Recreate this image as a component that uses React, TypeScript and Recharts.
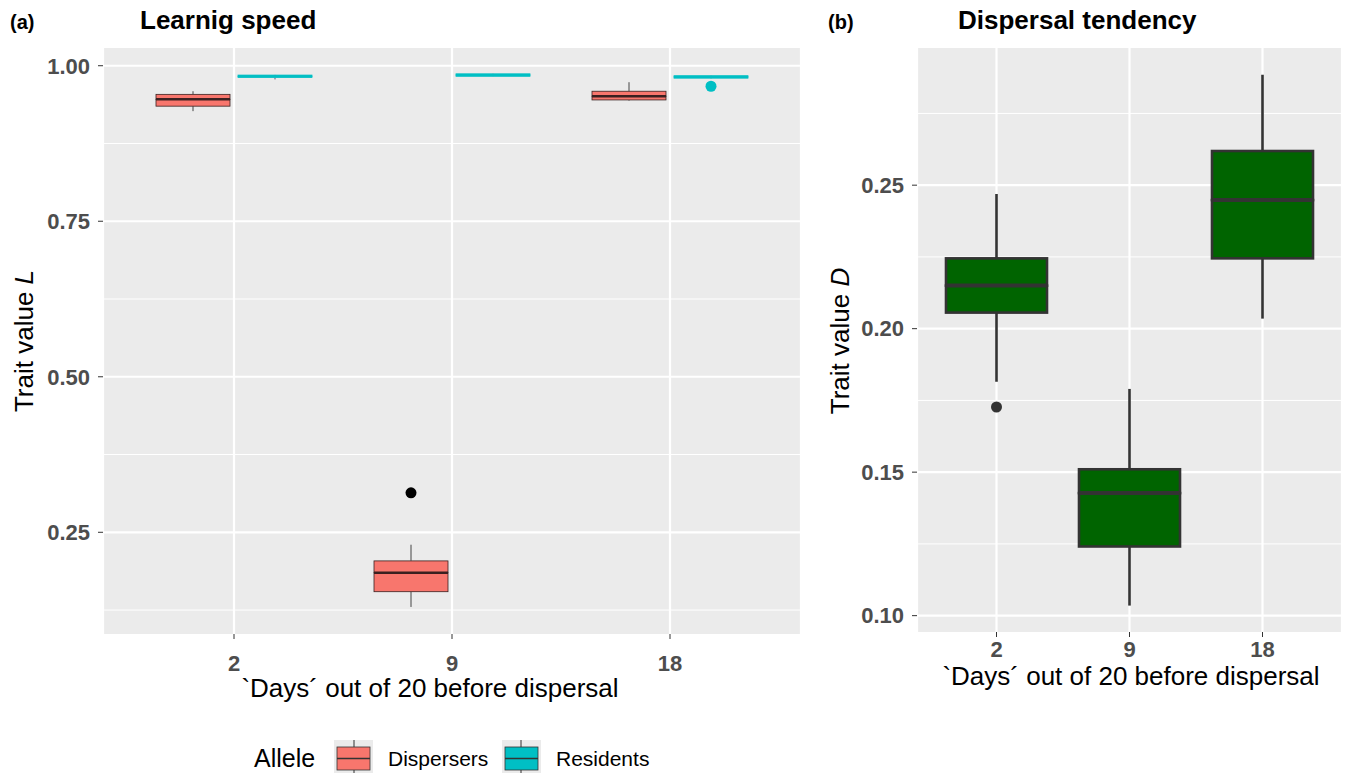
import React from 'react';
import { ComposedChart, Bar, XAxis, YAxis, CartesianGrid } from 'recharts';

const days = ['2', '9', '18'];

// (a) Learning speed L, Dispersers allele
const dispLo = [null, null, null];
const dispMin = [0.927, 0.13, 0.944];
const dispQ1 = [0.935, 0.1545, 0.945];
const dispMed = [0.946, 0.185, 0.951];
const dispQ3 = [0.954, 0.204, 0.959];
const dispMax = [0.959, 0.23, 0.9735];
const dispHi = [null, 0.3135, null];

// (a) Learning speed L, Residents allele
const resLo = [null, null, 0.967];
const resMin = [0.978, 0.9828, 0.9795];
const resQ1 = [0.9810, 0.9830, 0.9800];
const resMed = [0.983, 0.985, 0.982];
const resQ3 = [0.9850, 0.9870, 0.9840];
const resMax = [0.9852, 0.9872, 0.9842];
const resHi = [null, null, null];

// (b) Dispersal tendency D
const dLo = [0.1727, null, null];
const dMin = [0.1815, 0.1035, 0.2035];
const dQ1 = [0.2056, 0.1241, 0.2245];
const dMed = [0.215, 0.1427, 0.2448];
const dQ3 = [0.2245, 0.151, 0.2619];
const dMax = [0.2469, 0.179, 0.2885];
const dHi = [null, null, null];

const ticksL = [0.25, 0.5, 0.75, 1.0];
const minorL = [0.125, 0.375, 0.625, 0.875];
const ticksD = [0.1, 0.15, 0.2, 0.25];
const minorD = [0.125, 0.175, 0.225, 0.275];

const FONT = '"Liberation Sans", Arial, sans-serif';

type Stats = {
  lo: (number | null)[];
  min: number[];
  q1: number[];
  med: number[];
  q3: number[];
  max: number[];
  hi: (number | null)[];
};

// turn box statistics into stacked segments
function addBox(rows: any[], p: string, st: Stats) {
  rows.forEach((r, i) => {
    const base = st.lo[i] ?? st.min[i];
    r[p + 'Base'] = base;
    r[p + 'Gap'] = st.min[i] - base;
    r[p + 'W1'] = st.q1[i] - st.min[i];
    r[p + 'B1'] = st.med[i] - st.q1[i];
    r[p + 'B2'] = st.q3[i] - st.med[i];
    r[p + 'W2'] = st.max[i] - st.q3[i];
    r[p + 'Top'] = (st.hi[i] ?? st.max[i]) - st.max[i];
    r[p + 'Lo'] = st.lo[i];
    r[p + 'Hi'] = st.hi[i];
  });
  return rows;
}

const dataA = addBox(
  addBox(days.map((day) => ({ day })), 'disp', {
    lo: dispLo, min: dispMin, q1: dispQ1, med: dispMed, q3: dispQ3, max: dispMax, hi: dispHi,
  }),
  'res',
  { lo: resLo, min: resMin, q1: resQ1, med: resMed, q3: resQ3, max: resMax, hi: resHi }
);

const dataB = addBox(days.map((day) => ({ day })), 'd', {
  lo: dLo, min: dMin, q1: dQ1, med: dMed, q3: dQ3, max: dMax, hi: dHi,
});

type Look = {
  fill: string;
  line: string;
  box: number;
  median: number;
  whisker: number;
  whiskerColor: string;
  dot: string;
  r: number;
};

function geo(s: any) {
  const y0 = Math.min(s.y, s.y + s.height);
  const h = Math.abs(s.height);
  return { cx: s.x + s.width / 2, y0, h, x: s.x, w: s.width };
}

function boxBars(p: string, stack: string, look: Look) {
  return [
    <Bar key={p + 'Base'} dataKey={p + 'Base'} stackId={stack} isAnimationActive={false}
      shape={(s: any) => {
        if (s.payload[p + 'Lo'] == null) return <g />;
        const g = geo(s);
        return <circle cx={g.cx} cy={g.y0} r={look.r} fill={look.dot} />;
      }} />,
    <Bar key={p + 'Gap'} dataKey={p + 'Gap'} stackId={stack} isAnimationActive={false}
      shape={() => <g />} />,
    <Bar key={p + 'W1'} dataKey={p + 'W1'} stackId={stack} isAnimationActive={false}
      shape={(s: any) => {
        const g = geo(s);
        return <line x1={g.cx} x2={g.cx} y1={g.y0} y2={g.y0 + g.h} stroke={look.whiskerColor} strokeWidth={look.whisker} />;
      }} />,
    <Bar key={p + 'B1'} dataKey={p + 'B1'} stackId={stack} isAnimationActive={false}
      shape={(s: any) => {
        const g = geo(s);
        return <rect x={g.x} y={g.y0} width={g.w} height={g.h} fill={look.fill} stroke={look.line} strokeWidth={look.box} />;
      }} />,
    <Bar key={p + 'B2'} dataKey={p + 'B2'} stackId={stack} isAnimationActive={false}
      shape={(s: any) => {
        const g = geo(s);
        return (
          <g>
            <rect x={g.x} y={g.y0} width={g.w} height={g.h} fill={look.fill} stroke={look.line} strokeWidth={look.box} />
            <line x1={g.x} x2={g.x + g.w} y1={g.y0 + g.h} y2={g.y0 + g.h} stroke={look.line} strokeWidth={look.median} />
          </g>
        );
      }} />,
    <Bar key={p + 'W2'} dataKey={p + 'W2'} stackId={stack} isAnimationActive={false}
      shape={(s: any) => {
        const g = geo(s);
        return <line x1={g.cx} x2={g.cx} y1={g.y0} y2={g.y0 + g.h} stroke={look.whiskerColor} strokeWidth={look.whisker} />;
      }} />,
    <Bar key={p + 'Top'} dataKey={p + 'Top'} stackId={stack} isAnimationActive={false}
      shape={(s: any) => {
        if (s.payload[p + 'Hi'] == null) return <g />;
        const g = geo(s);
        return <circle cx={g.cx} cy={g.y0} r={look.r} fill={look.dot} />;
      }} />,
  ];
}

const tickStyle = { fill: '#4D4D4D', fontSize: 22, fontWeight: 'bold', fontFamily: FONT };

const dispLook: Look = { fill: '#F8766D', line: '#3a2020', box: 0.8, median: 2.5, whisker: 1, whiskerColor: '#444', dot: '#000', r: 5.5 };
const resLook: Look = { fill: '#00BFC4', line: '#00BFC4', box: 0.8, median: 0.8, whisker: 1, whiskerColor: '#557', dot: '#00BFC4', r: 5.5 };
const dLook: Look = { fill: '#006400', line: '#333333', box: 2.6, median: 4, whisker: 2.6, whiskerColor: '#333333', dot: '#333333', r: 5.5 };

export default function App() {
  return (
    <div style={{ position: 'absolute', left: 0, top: 0, width: 1346, height: 773, background: '#fff', fontFamily: FONT, overflow: 'hidden' }}>
      <div style={{ position: 'absolute', left: 0, top: 0 }}>
        <ComposedChart width={810} height={700} data={dataA} margin={{ top: 48, right: 9, bottom: 36, left: 43 }} barSize={74} barGap={8}>
          <CartesianGrid fill="#EBEBEB" stroke="#FFFFFF" strokeWidth={1} horizontalValues={minorL} vertical={false} />
          <CartesianGrid stroke="#FFFFFF" strokeWidth={2.2} horizontalValues={ticksL} fill="none" />
          <XAxis dataKey="day" type="category" padding={{ left: 22, right: 22 }} axisLine={false}
            tickLine={{ stroke: '#333' }} tickSize={5} tickMargin={16} height={30} tick={tickStyle} />
          <YAxis type="number" domain={[0.0865, 1.0285]} allowDataOverflow ticks={ticksL}
            tickFormatter={(v: number) => v.toFixed(2)} axisLine={false} tickLine={{ stroke: '#333' }}
            tickSize={5} tickMargin={8} width={60} tick={tickStyle} />
          {boxBars('disp', 'disp', dispLook)}
          {boxBars('res', 'res', resLook)}
        </ComposedChart>
      </div>
      <div style={{ position: 'absolute', left: 810, top: 0 }}>
        <ComposedChart width={536} height={700} data={dataB} margin={{ top: 48, right: 4, bottom: 38, left: 47 }} barSize={101}>
          <CartesianGrid fill="#EBEBEB" stroke="#FFFFFF" strokeWidth={1} horizontalValues={minorD} vertical={false} />
          <CartesianGrid stroke="#FFFFFF" strokeWidth={2.2} horizontalValues={ticksD} fill="none" />
          <XAxis dataKey="day" type="category" padding={{ left: 13, right: 13 }} axisLine={false}
            tickLine={{ stroke: '#333' }} tickSize={5} tickMargin={4} height={30} tick={tickStyle} />
          <YAxis type="number" domain={[0.0943, 0.2978]} allowDataOverflow ticks={ticksD}
            tickFormatter={(v: number) => v.toFixed(2)} axisLine={false} tickLine={{ stroke: '#333' }}
            tickSize={5} tickMargin={8} width={60} tick={tickStyle} />
          {boxBars('d', 'd', dLook)}
        </ComposedChart>
      </div>
      <svg width={1346} height={773} style={{ position: 'absolute', left: 0, top: 0, pointerEvents: 'none' }} fontFamily={FONT}>
        <text x={10} y={29} fontSize={20} fontWeight="bold">(a)</text>
        <text x={140} y={29} fontSize={26} fontWeight="bold">Learnig speed</text>
        <text x={828} y={29} fontSize={20} fontWeight="bold">(b)</text>
        <text x={958} y={29} fontSize={26} fontWeight="bold">Dispersal tendency</text>
        <text x={430} y={697} fontSize={26} textAnchor="middle">`Days´ out of 20 before dispersal</text>
        <text x={1131} y={685} fontSize={26} textAnchor="middle">`Days´ out of 20 before dispersal</text>
        <text transform="translate(33,341) rotate(-90)" fontSize={26} textAnchor="middle">
          Trait value <tspan fontStyle="italic">L</tspan>
        </text>
        <text transform="translate(849,341) rotate(-90)" fontSize={26} textAnchor="middle">
          Trait value <tspan fontStyle="italic">D</tspan>
        </text>
        <text x={254} y={767} fontSize={25}>Allele</text>
        <g>
          <rect x={334} y={740} width={39} height={40} fill="#EBEBEB" />
          <line x1={354} x2={354} y1={740} y2={778} stroke="#333" strokeWidth={1} />
          <rect x={337} y={747} width={33} height={23} fill="#F8766D" stroke="#333" strokeWidth={0.8} />
          <line x1={337} x2={370} y1={758.5} y2={758.5} stroke="#333" strokeWidth={1.5} />
          <text x={388} y={766} fontSize={21}>Dispersers</text>
        </g>
        <g>
          <rect x={502} y={740} width={39} height={40} fill="#EBEBEB" />
          <line x1={521} x2={521} y1={740} y2={778} stroke="#333" strokeWidth={1} />
          <rect x={505} y={747} width={33} height={23} fill="#00BFC4" stroke="#333" strokeWidth={0.8} />
          <line x1={505} x2={538} y1={758.5} y2={758.5} stroke="#333" strokeWidth={1.5} />
          <text x={556} y={766} fontSize={21}>Residents</text>
        </g>
      </svg>
    </div>
  );
}
